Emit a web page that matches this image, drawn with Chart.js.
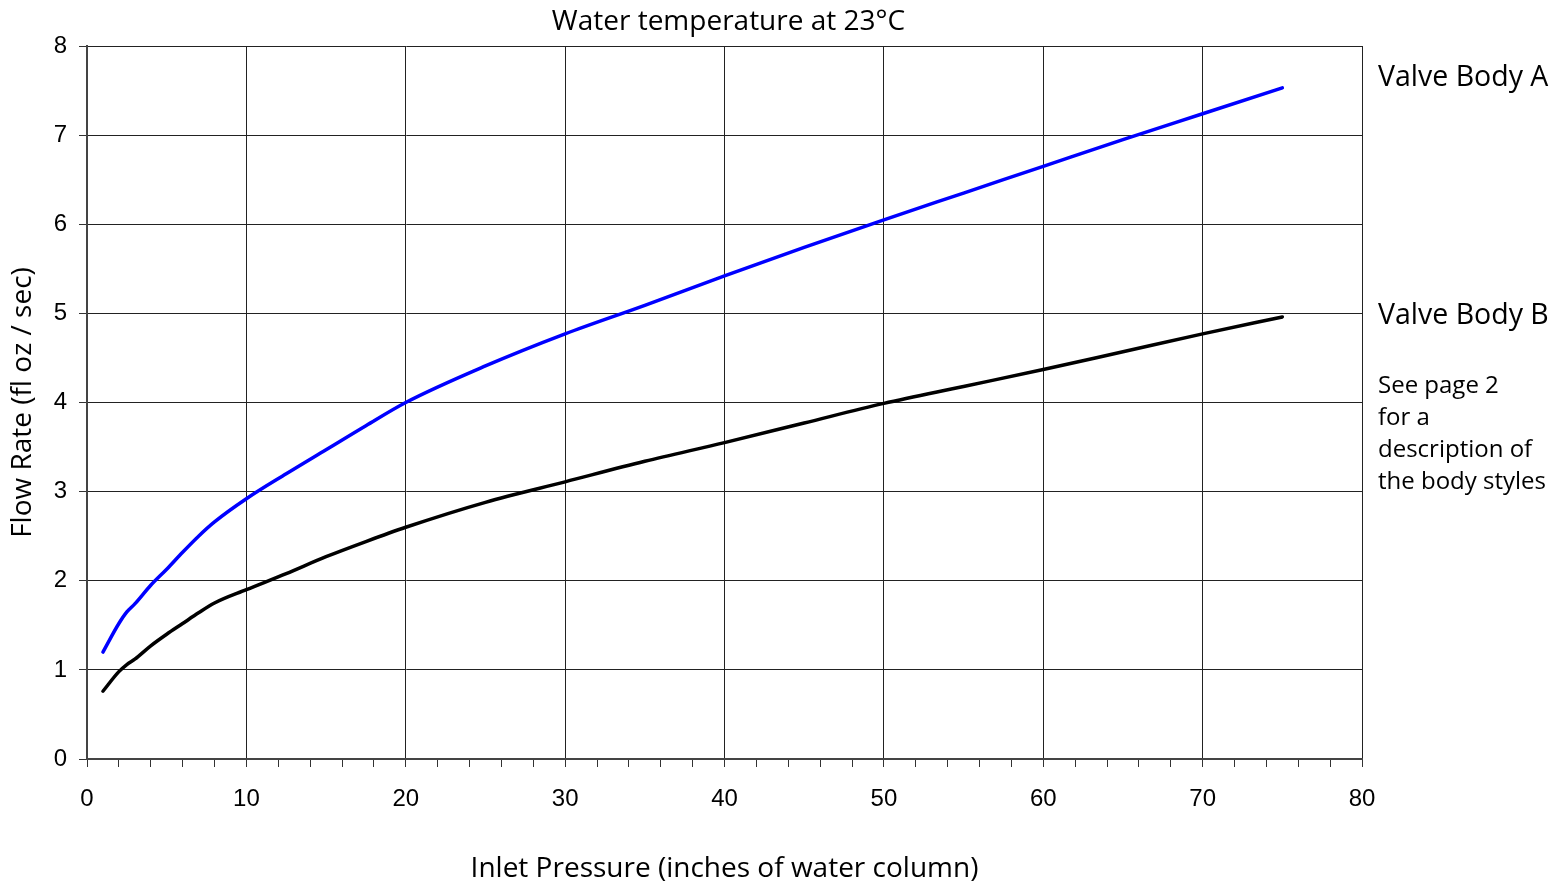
<!DOCTYPE html>
<html>
<head>
<meta charset="utf-8">
<title>Flow rate vs inlet pressure</title>
<script src="https://cdn.jsdelivr.net/npm/chart.js@4.4.1/dist/chart.umd.min.js"></script>
<style>
  html, body { margin: 0; padding: 0; background: #fff; }
  #wrap { width: 1564px; height: 886px; position: relative; }
</style>
</head>
<body>
<div id="wrap"><canvas id="flow-chart"></canvas></div>
<script>
// Inlet pressure (inches of water column) where the curves were read
const pressure = [1, 2, 2.5, 3, 4, 5, 6, 7, 8, 10, 12.5, 15, 17.5, 20, 25, 30, 35, 40, 45, 50, 55, 60, 65, 70, 75];
// Flow rate (fl oz / sec) for each valve body
const valveA = [1.20, 1.52, 1.65, 1.74, 1.95, 2.13, 2.32, 2.50, 2.66, 2.92, 3.20, 3.47, 3.74, 4.00, 4.41, 4.77, 5.09, 5.42, 5.74, 6.05, 6.35, 6.65, 6.95, 7.24, 7.53];
const valveB = [0.76, 0.98, 1.06, 1.12, 1.27, 1.40, 1.52, 1.64, 1.75, 1.90, 2.08, 2.27, 2.44, 2.60, 2.88, 3.11, 3.34, 3.55, 3.77, 3.99, 4.18, 4.37, 4.57, 4.77, 4.96];
const seriesNames = ['Valve Body A', 'Valve Body B'];
const noteLines = ['See page 2', 'for a', 'description of', 'the body styles'];
const chartTitle = 'Water temperature at 23°C';

const xMin = 0, xMax = 80, yMin = 0, yMax = 8;
const humanFont = '"Open Sans", "Noto Sans", sans-serif';
const tickFont = '"Liberation Sans", Arial, sans-serif';

function toPoints(values){
    const pts = [];
    for (let i = 0; i < pressure.length; i++){
        pts.push({x: pressure[i], y: values[i]});
    }
    return pts;
}

// title over the plot area, plus the labels to the right of it
const sideLabels = {
    id: 'sideLabels',
    afterDraw(chart){
        const c = chart.ctx;
        const area = chart.chartArea;
        const left = area.right + 16;
        c.save();
        c.fillStyle = '#000';
        c.textBaseline = 'middle';
        c.textAlign = 'center';
        c.font = '28px ' + humanFont;
        c.fillText(chartTitle, (area.left + area.right) / 2 + 4, 22);
        c.textAlign = 'left';
        c.font = '28.5px ' + humanFont;
        c.fillText(seriesNames[0], left, area.top + 32);
        c.fillText(seriesNames[1], left, area.top + 270);
        c.font = '24px ' + humanFont;
        noteLines.forEach((line, i) => {
            c.fillText(line, left, area.top + 340 + i * 32);
        });
        c.restore();
    }
};

const ctx = document.getElementById('flow-chart').getContext('2d');
const chart = new Chart(ctx, {
    type: 'line',
    data: {
        datasets: [
            { label: seriesNames[0], data: toPoints(valveA), borderColor: '#0000ff', borderWidth: 3.5 },
            { label: seriesNames[1], data: toPoints(valveB), borderColor: '#000000', borderWidth: 3.5 }
        ]
    },
    options: {
        responsive: true,
        maintainAspectRatio: false,
        devicePixelRatio: 1,
        animation: false,
        layout: { padding: { left: 0, right: 202, top: 46, bottom: 0 } },
        elements: {
            point: { radius: 0 },
            line: { cubicInterpolationMode: 'monotone', borderCapStyle: 'round', fill: false }
        },
        plugins: {
            legend: { display: false },
            tooltip: { enabled: false },
            title: { display: false }
        },
        scales: {
            x: {
                type: 'linear',
                min: xMin, max: xMax,
                afterFit(scale){ scale.height = 127; },
                ticks: {
                    stepSize: 2,
                    autoSkip: false,
                    maxRotation: 0,
                    color: '#000',
                    padding: 18,
                    font: { family: tickFont, size: 24 },
                    callback: v => (v % 10 === 0 ? String(v) : '')
                },
                grid: {
                    color: c => (c.tick && c.tick.value % 10 === 0 ? '#222' : 'rgba(0,0,0,0)'),
                    tickColor: '#333',
                    tickLength: 8,
                    lineWidth: 1
                },
                border: { color: '#444', width: 2 },
                title: {
                    display: true,
                    text: 'Inlet Pressure (inches of water column)',
                    color: '#000',
                    font: { family: humanFont, size: 28 },
                    padding: { top: 0, bottom: 0 }
                }
            },
            y: {
                type: 'linear',
                min: yMin, max: yMax,
                afterFit(scale){ scale.width = 87; },
                ticks: {
                    stepSize: 1,
                    color: '#000',
                    padding: 12,
                    font: { family: tickFont, size: 24 }
                },
                grid: {
                    color: '#222',
                    tickColor: '#333',
                    tickLength: 8,
                    lineWidth: 1
                },
                border: { color: '#444', width: 2 },
                title: {
                    display: true,
                    text: 'Flow Rate (fl oz / sec)',
                    color: '#000',
                    font: { family: humanFont, size: 28 },
                    padding: { top: 6, bottom: 0 }
                }
            }
        }
    },
    plugins: [sideLabels]
});
</script>
</body>
</html>
